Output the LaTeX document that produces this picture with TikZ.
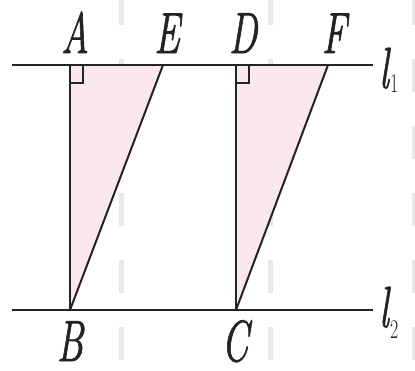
\documentclass[tikz,border=0pt]{standalone}
\usepackage{fontspec}
\usepackage{graphicx}
\setmainfont{Latin Modern Roman}[ItalicFeatures={FakeBold=1.5}]
\definecolor{pinkfill}{RGB}{251,231,240}
\definecolor{artgray}{RGB}{232,232,232}
\definecolor{ink}{RGB}{35,35,35}
\tikzset{
  lbl/.style={anchor=base, inner sep=0pt, text=ink, font=\fontsize{58}{58}\selectfont\itshape},
  lineink/.style={draw=ink, line width=2pt},
  artefact/.style={draw=artgray, line width=5pt, dash pattern=on 33pt off 34pt},
}
\newcommand{\squeeze}[1]{\scalebox{0.66}[1]{#1}}
\begin{document}
\begin{tikzpicture}[x=1pt,y=-1pt]
\useasboundingbox (0,0) rectangle (415,370);
\fill[white] (0,0) rectangle (415,370);
% faint scan stripes
\foreach \x in {121,270,414} \draw[artefact] (\x,-8) -- (\x,372);
% points
\coordinate (A) at (70,65);
\coordinate (E) at (163,65);
\coordinate (B) at (70,310);
\coordinate (D) at (236,65);
\coordinate (F) at (328,65);
\coordinate (C) at (236,310);
\coordinate (L1s) at (12,65);
\coordinate (L1e) at (373,65);
\coordinate (L2s) at (12,310);
\coordinate (L2e) at (373,310);
% triangles
\fill[pinkfill] (A) -- (E) -- (B) -- cycle;
\fill[pinkfill] (D) -- (F) -- (C) -- cycle;
% lines
\draw[lineink] (L1s) -- (L1e);
\draw[lineink] (L2s) -- (L2e);
\draw[lineink] (A) -- (B);
\draw[lineink] (E) -- (B);
\draw[lineink] (D) -- (C);
\draw[lineink] (F) -- (C);
% right angle marks
\draw[draw=ink, line width=1.4pt] (A) ++(0,18) -- ++(13,0) -- ++(0,-18);
\draw[draw=ink, line width=1.4pt] (D) ++(0,18) -- ++(13,0) -- ++(0,-18);
% labels
\node[lbl] (lA) at (75,53) {\squeeze{A}};
\node[lbl] (lE) at (167,53) {\squeeze{E}};
\node[lbl] (lD) at (243,53) {\squeeze{D}};
\node[lbl] (lF) at (334,53) {\squeeze{F}};
\node[lbl] (lB) at (70,361) {\squeeze{B}};
\node[lbl] (lC) at (235,361) {\squeeze{C}};
\node[lbl, anchor=base west] (l1) at (379,88) {\squeeze{l\kern2pt\raisebox{-4pt}{\fontsize{27}{27}\selectfont\upshape 1}}};
\node[lbl, anchor=base west] (l2) at (379,327) {\squeeze{l\kern2pt\raisebox{-11pt}{\fontsize{27}{27}\selectfont\upshape 2}}};
\end{tikzpicture}
\end{document}
